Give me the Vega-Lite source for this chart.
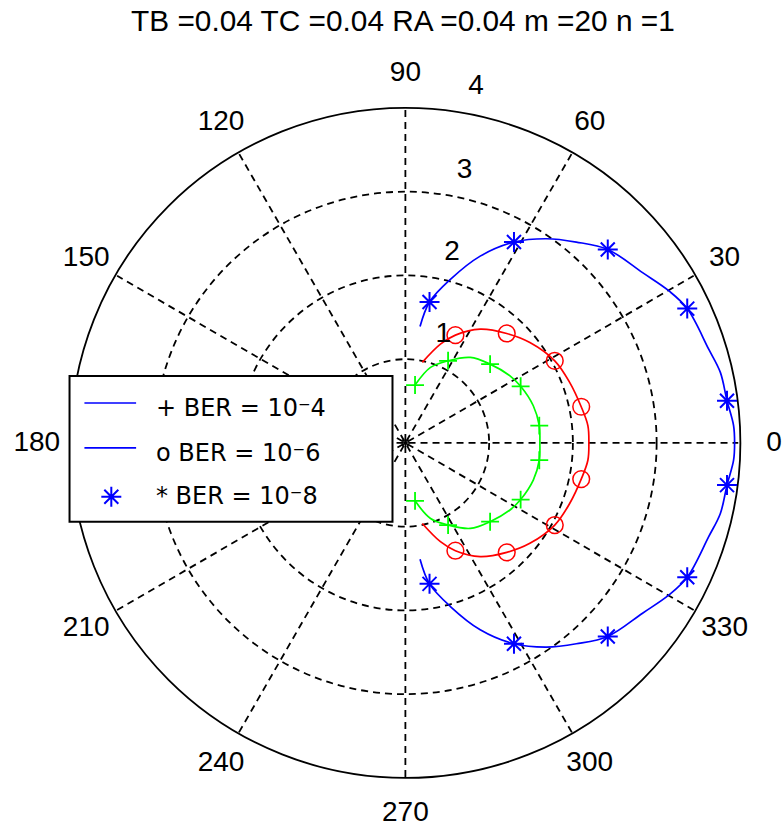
{
  "$schema": "https://vega.github.io/schema/vega-lite/v6.json",
  "autosize": {"type": "fit", "contains": "padding"},
  "width": 782,
  "height": 828,
  "padding": 0,
  "background": "white",
  "config": {"view": {"stroke": null}},
  "datasets": {
    "curves": [
      {"series": "1e-4", "i": 0, "x": 0.116, "y": -0.693, "marker": true},
      {"series": "1e-4", "i": 1, "x": 0.302, "y": -0.904, "marker": false},
      {"series": "1e-4", "i": 2, "x": 0.513, "y": -0.983, "marker": true},
      {"series": "1e-4", "i": 3, "x": 0.780, "y": -1.023, "marker": false},
      {"series": "1e-4", "i": 4, "x": 1.018, "y": -0.943, "marker": true},
      {"series": "1e-4", "i": 5, "x": 1.257, "y": -0.803, "marker": false},
      {"series": "1e-4", "i": 6, "x": 1.385, "y": -0.678, "marker": true},
      {"series": "1e-4", "i": 7, "x": 1.537, "y": -0.445, "marker": false},
      {"series": "1e-4", "i": 8, "x": 1.609, "y": -0.207, "marker": true},
      {"series": "1e-4", "i": 9, "x": 1.616, "y": 0, "marker": false},
      {"series": "1e-4", "i": 10, "x": 1.609, "y": 0.207, "marker": true},
      {"series": "1e-4", "i": 11, "x": 1.537, "y": 0.445, "marker": false},
      {"series": "1e-4", "i": 12, "x": 1.385, "y": 0.678, "marker": true},
      {"series": "1e-4", "i": 13, "x": 1.257, "y": 0.803, "marker": false},
      {"series": "1e-4", "i": 14, "x": 1.018, "y": 0.943, "marker": true},
      {"series": "1e-4", "i": 15, "x": 0.780, "y": 1.023, "marker": false},
      {"series": "1e-4", "i": 16, "x": 0.513, "y": 0.983, "marker": true},
      {"series": "1e-4", "i": 17, "x": 0.302, "y": 0.904, "marker": false},
      {"series": "1e-4", "i": 18, "x": 0.116, "y": 0.693, "marker": true},

      {"series": "1e-6", "i": 0, "x": 0.203, "y": -0.964, "marker": false},
      {"series": "1e-6", "i": 1, "x": 0.421, "y": -1.182, "marker": false},
      {"series": "1e-6", "i": 2, "x": 0.601, "y": -1.290, "marker": true},
      {"series": "1e-6", "i": 3, "x": 0.899, "y": -1.361, "marker": false},
      {"series": "1e-6", "i": 4, "x": 1.218, "y": -1.310, "marker": true},
      {"series": "1e-6", "i": 5, "x": 1.496, "y": -1.202, "marker": false},
      {"series": "1e-6", "i": 6, "x": 1.795, "y": -0.983, "marker": true},
      {"series": "1e-6", "i": 7, "x": 1.974, "y": -0.725, "marker": false},
      {"series": "1e-6", "i": 8, "x": 2.113, "y": -0.433, "marker": true},
      {"series": "1e-6", "i": 9, "x": 2.193, "y": -0.207, "marker": false},
      {"series": "1e-6", "i": 10, "x": 2.205, "y": 0, "marker": false},
      {"series": "1e-6", "i": 11, "x": 2.193, "y": 0.207, "marker": false},
      {"series": "1e-6", "i": 12, "x": 2.113, "y": 0.433, "marker": true},
      {"series": "1e-6", "i": 13, "x": 1.974, "y": 0.725, "marker": false},
      {"series": "1e-6", "i": 14, "x": 1.795, "y": 0.983, "marker": true},
      {"series": "1e-6", "i": 15, "x": 1.496, "y": 1.202, "marker": false},
      {"series": "1e-6", "i": 16, "x": 1.218, "y": 1.310, "marker": true},
      {"series": "1e-6", "i": 17, "x": 0.899, "y": 1.361, "marker": false},
      {"series": "1e-6", "i": 18, "x": 0.601, "y": 1.290, "marker": true},
      {"series": "1e-6", "i": 19, "x": 0.421, "y": 1.182, "marker": false},
      {"series": "1e-6", "i": 20, "x": 0.203, "y": 0.964, "marker": false},

      {"series": "1e-8", "i": 0, "x": 0.176, "y": -1.393, "marker": false},
      {"series": "1e-8", "i": 1, "x": 0.290, "y": -1.687, "marker": true},
      {"series": "1e-8", "i": 2, "x": 0.541, "y": -1.958, "marker": false},
      {"series": "1e-8", "i": 3, "x": 0.899, "y": -2.236, "marker": false},
      {"series": "1e-8", "i": 4, "x": 1.305, "y": -2.404, "marker": true},
      {"series": "1e-8", "i": 5, "x": 1.696, "y": -2.444, "marker": false},
      {"series": "1e-8", "i": 6, "x": 2.054, "y": -2.404, "marker": false},
      {"series": "1e-8", "i": 7, "x": 2.432, "y": -2.316, "marker": true},
      {"series": "1e-8", "i": 8, "x": 2.850, "y": -2.038, "marker": false},
      {"series": "1e-8", "i": 9, "x": 3.168, "y": -1.819, "marker": false},
      {"series": "1e-8", "i": 10, "x": 3.387, "y": -1.608, "marker": true},
      {"series": "1e-8", "i": 11, "x": 3.645, "y": -1.122, "marker": false},
      {"series": "1e-8", "i": 12, "x": 3.785, "y": -0.844, "marker": false},
      {"series": "1e-8", "i": 13, "x": 3.865, "y": -0.505, "marker": true},
      {"series": "1e-8", "i": 14, "x": 3.944, "y": -0.207, "marker": false},
      {"series": "1e-8", "i": 15, "x": 3.956, "y": 0, "marker": false},
      {"series": "1e-8", "i": 16, "x": 3.944, "y": 0.207, "marker": false},
      {"series": "1e-8", "i": 17, "x": 3.865, "y": 0.505, "marker": true},
      {"series": "1e-8", "i": 18, "x": 3.785, "y": 0.844, "marker": false},
      {"series": "1e-8", "i": 19, "x": 3.645, "y": 1.122, "marker": false},
      {"series": "1e-8", "i": 20, "x": 3.387, "y": 1.608, "marker": true},
      {"series": "1e-8", "i": 21, "x": 3.168, "y": 1.819, "marker": false},
      {"series": "1e-8", "i": 22, "x": 2.850, "y": 2.038, "marker": false},
      {"series": "1e-8", "i": 23, "x": 2.432, "y": 2.316, "marker": true},
      {"series": "1e-8", "i": 24, "x": 2.054, "y": 2.404, "marker": false},
      {"series": "1e-8", "i": 25, "x": 1.696, "y": 2.444, "marker": false},
      {"series": "1e-8", "i": 26, "x": 1.305, "y": 2.404, "marker": true},
      {"series": "1e-8", "i": 27, "x": 0.899, "y": 2.236, "marker": false},
      {"series": "1e-8", "i": 28, "x": 0.541, "y": 1.958, "marker": false},
      {"series": "1e-8", "i": 29, "x": 0.290, "y": 1.687, "marker": true},
      {"series": "1e-8", "i": 30, "x": 0.176, "y": 1.393, "marker": false}
    ],
    "spokes": [
      {"x1": -4, "y1": 0, "x2": 4, "y2": 0},
      {"x1": -3.464, "y1": -2, "x2": 3.464, "y2": 2},
      {"x1": -2, "y1": -3.464, "x2": 2, "y2": 3.464},
      {"x1": 0, "y1": -4, "x2": 0, "y2": 4},
      {"x1": 2, "y1": -3.464, "x2": -2, "y2": 3.464},
      {"x1": 3.464, "y1": -2, "x2": -3.464, "y2": 2}
    ],
    "angleLabels": [
      {"label": "0", "x": 4.43, "y": 0},
      {"label": "30", "x": 3.836, "y": 2.215},
      {"label": "60", "x": 2.215, "y": 3.836},
      {"label": "90", "x": 0, "y": 4.43},
      {"label": "120", "x": -2.215, "y": 3.836},
      {"label": "150", "x": -3.836, "y": 2.215},
      {"label": "180", "x": -4.43, "y": 0},
      {"label": "210", "x": -3.836, "y": -2.215},
      {"label": "240", "x": -2.215, "y": -3.836},
      {"label": "270", "x": 0, "y": -4.43},
      {"label": "300", "x": 2.215, "y": -3.836},
      {"label": "330", "x": 3.836, "y": -2.215}
    ],
    "radialLabels": [
      {"label": "1", "x": 0.454, "y": 1.301},
      {"label": "2", "x": 0.561, "y": 2.281},
      {"label": "3", "x": 0.710, "y": 3.272},
      {"label": "4", "x": 0.848, "y": 4.275}
    ]
  },
  "layer": [
    {
      "data": {"values": [{"r": 1}, {"r": 2}, {"r": 3}]},
      "mark": {"type": "point", "shape": "circle", "filled": false, "stroke": "black", "strokeWidth": 1.8, "strokeDash": [7, 5], "opacity": 1},
      "encoding": {
        "x": {"datum": 0, "type": "quantitative", "scale": {"domain": [-4.8716, 4.4657], "nice": false, "zero": false}, "axis": null},
        "y": {"datum": 0, "type": "quantitative", "scale": {"domain": [-4.5851, 5.3015], "nice": false, "zero": false}, "axis": null},
        "size": {"field": "r", "type": "quantitative", "scale": {"type": "pow", "exponent": 2, "domain": [0, 4], "range": [0, 448900]}, "legend": null}
      }
    },
    {
      "data": {"name": "spokes"},
      "mark": {"type": "rule", "stroke": "black", "strokeWidth": 1.8, "strokeDash": [7, 5]},
      "encoding": {
        "x": {"field": "x1", "type": "quantitative", "scale": {"domain": [-4.8716, 4.4657], "nice": false, "zero": false}, "axis": null},
        "y": {"field": "y1", "type": "quantitative", "scale": {"domain": [-4.5851, 5.3015], "nice": false, "zero": false}, "axis": null},
        "x2": {"field": "x2"},
        "y2": {"field": "y2"}
      }
    },
    {
      "data": {"values": [{"r": 4}]},
      "mark": {"type": "point", "shape": "circle", "filled": false, "stroke": "black", "strokeWidth": 1.8, "opacity": 1},
      "encoding": {
        "x": {"datum": 0, "type": "quantitative", "scale": {"domain": [-4.8716, 4.4657], "nice": false, "zero": false}, "axis": null},
        "y": {"datum": 0, "type": "quantitative", "scale": {"domain": [-4.5851, 5.3015], "nice": false, "zero": false}, "axis": null},
        "size": {"field": "r", "type": "quantitative", "scale": {"type": "pow", "exponent": 2, "domain": [0, 4], "range": [0, 448900]}, "legend": null}
      }
    },
    {
      "data": {"values": [{}]},
      "mark": {"type": "point", "shape": "M-1,0L1,0M0,-1L0,1M-0.7,-0.7L0.7,0.7M-0.7,0.7L0.7,-0.7", "filled": false, "stroke": "black", "strokeWidth": 1.2, "size": 90, "opacity": 1},
      "encoding": {
        "x": {"datum": 0, "type": "quantitative", "scale": {"domain": [-4.8716, 4.4657], "nice": false, "zero": false}, "axis": null},
        "y": {"datum": 0, "type": "quantitative", "scale": {"domain": [-4.5851, 5.3015], "nice": false, "zero": false}, "axis": null}
      }
    },
    {
      "data": {"name": "curves"},
      "mark": {"type": "line", "strokeWidth": 1.7, "interpolate": "catmull-rom"},
      "encoding": {
        "x": {"field": "x", "type": "quantitative", "scale": {"domain": [-4.8716, 4.4657], "nice": false, "zero": false}, "axis": null},
        "y": {"field": "y", "type": "quantitative", "scale": {"domain": [-4.5851, 5.3015], "nice": false, "zero": false}, "axis": null},
        "order": {"field": "i", "type": "quantitative"},
        "color": {"field": "series", "type": "nominal", "scale": {"domain": ["1e-4", "1e-6", "1e-8"], "range": ["#00ff00", "#ff0000", "#0000ff"]}, "legend": null}
      }
    },
    {
      "data": {"name": "curves"},
      "transform": [{"filter": "datum.marker && datum.series == '1e-4'"}],
      "mark": {"type": "point", "shape": "M-1,0L1,0M0,-1L0,1", "filled": false, "stroke": "#00ff00", "strokeWidth": 1.8, "size": 320, "opacity": 1},
      "encoding": {
        "x": {"field": "x", "type": "quantitative", "scale": {"domain": [-4.8716, 4.4657], "nice": false, "zero": false}, "axis": null},
        "y": {"field": "y", "type": "quantitative", "scale": {"domain": [-4.5851, 5.3015], "nice": false, "zero": false}, "axis": null}
      }
    },
    {
      "data": {"name": "curves"},
      "transform": [{"filter": "datum.marker && datum.series == '1e-6'"}],
      "mark": {"type": "point", "shape": "circle", "filled": false, "stroke": "#ff0000", "strokeWidth": 1.5, "size": 280, "opacity": 1},
      "encoding": {
        "x": {"field": "x", "type": "quantitative", "scale": {"domain": [-4.8716, 4.4657], "nice": false, "zero": false}, "axis": null},
        "y": {"field": "y", "type": "quantitative", "scale": {"domain": [-4.5851, 5.3015], "nice": false, "zero": false}, "axis": null}
      }
    },
    {
      "data": {"name": "curves"},
      "transform": [{"filter": "datum.marker && datum.series == '1e-8'"}],
      "mark": {"type": "point", "shape": "M-1,0L1,0M0,-1L0,1M-0.7,-0.7L0.7,0.7M-0.7,0.7L0.7,-0.7", "filled": false, "stroke": "#0000ff", "strokeWidth": 2, "size": 400, "opacity": 1},
      "encoding": {
        "x": {"field": "x", "type": "quantitative", "scale": {"domain": [-4.8716, 4.4657], "nice": false, "zero": false}, "axis": null},
        "y": {"field": "y", "type": "quantitative", "scale": {"domain": [-4.5851, 5.3015], "nice": false, "zero": false}, "axis": null}
      }
    },
    {
      "data": {"name": "angleLabels"},
      "mark": {"type": "text", "font": "Liberation Sans", "fontSize": 28, "align": "center", "baseline": "middle", "color": "black"},
      "encoding": {
        "x": {"field": "x", "type": "quantitative", "scale": {"domain": [-4.8716, 4.4657], "nice": false, "zero": false}, "axis": null},
        "y": {"field": "y", "type": "quantitative", "scale": {"domain": [-4.5851, 5.3015], "nice": false, "zero": false}, "axis": null},
        "text": {"field": "label"}
      }
    },
    {
      "data": {"name": "radialLabels"},
      "mark": {"type": "text", "font": "Liberation Sans", "fontSize": 28, "align": "center", "baseline": "middle", "color": "black"},
      "encoding": {
        "x": {"field": "x", "type": "quantitative", "scale": {"domain": [-4.8716, 4.4657], "nice": false, "zero": false}, "axis": null},
        "y": {"field": "y", "type": "quantitative", "scale": {"domain": [-4.5851, 5.3015], "nice": false, "zero": false}, "axis": null},
        "text": {"field": "label"}
      }
    },
    {
      "data": {"values": [{}]},
      "mark": {"type": "text", "font": "Liberation Sans", "fontSize": 29.8, "align": "center", "baseline": "middle", "color": "black", "text": "TB =0.04 TC =0.04 RA =0.04 m =20 n =1"},
      "encoding": {
        "x": {"datum": -0.03, "type": "quantitative", "scale": {"domain": [-4.8716, 4.4657], "nice": false, "zero": false}, "axis": null},
        "y": {"datum": 5.04, "type": "quantitative", "scale": {"domain": [-4.5851, 5.3015], "nice": false, "zero": false}, "axis": null}
      }
    },
    {
      "data": {"values": [{}]},
      "mark": {"type": "rect", "fill": "white", "stroke": "black", "strokeWidth": 2},
      "encoding": {
        "x": {"datum": -4.036, "type": "quantitative", "scale": {"domain": [-4.8716, 4.4657], "nice": false, "zero": false}, "axis": null},
        "x2": {"datum": -0.155},
        "y": {"datum": 0.800, "type": "quantitative", "scale": {"domain": [-4.5851, 5.3015], "nice": false, "zero": false}, "axis": null},
        "y2": {"datum": -0.943}
      }
    },
    {
      "data": {"values": [{}]},
      "mark": {"type": "rule", "stroke": "#0000ff", "strokeWidth": 1.7},
      "encoding": {
        "x": {"datum": -3.857, "type": "quantitative", "scale": {"domain": [-4.8716, 4.4657], "nice": false, "zero": false}, "axis": null},
        "x2": {"datum": -3.236},
        "y": {"datum": 0.478, "type": "quantitative", "scale": {"domain": [-4.5851, 5.3015], "nice": false, "zero": false}, "axis": null}
      }
    },
    {
      "data": {"values": [{}]},
      "mark": {"type": "rule", "stroke": "#0000ff", "strokeWidth": 1.7},
      "encoding": {
        "x": {"datum": -3.857, "type": "quantitative", "scale": {"domain": [-4.8716, 4.4657], "nice": false, "zero": false}, "axis": null},
        "x2": {"datum": -3.236},
        "y": {"datum": -0.060, "type": "quantitative", "scale": {"domain": [-4.5851, 5.3015], "nice": false, "zero": false}, "axis": null}
      }
    },
    {
      "data": {"values": [{}]},
      "mark": {"type": "point", "shape": "M-1,0L1,0M0,-1L0,1M-0.7,-0.7L0.7,0.7M-0.7,0.7L0.7,-0.7", "filled": false, "stroke": "#0000ff", "strokeWidth": 2, "size": 400, "opacity": 1},
      "encoding": {
        "x": {"datum": -3.534, "type": "quantitative", "scale": {"domain": [-4.8716, 4.4657], "nice": false, "zero": false}, "axis": null},
        "y": {"datum": -0.645, "type": "quantitative", "scale": {"domain": [-4.5851, 5.3015], "nice": false, "zero": false}, "axis": null}
      }
    },
    {
      "data": {"values": [{}]},
      "mark": {"type": "text", "font": "DejaVu Sans", "fontSize": 24, "align": "left", "baseline": "middle", "color": "black", "text": "+ BER = 10⁻4"},
      "encoding": {
        "x": {"datum": -2.997, "type": "quantitative", "scale": {"domain": [-4.8716, 4.4657], "nice": false, "zero": false}, "axis": null},
        "y": {"datum": 0.406, "type": "quantitative", "scale": {"domain": [-4.5851, 5.3015], "nice": false, "zero": false}, "axis": null}
      }
    },
    {
      "data": {"values": [{}]},
      "mark": {"type": "text", "font": "DejaVu Sans", "fontSize": 24, "align": "left", "baseline": "middle", "color": "black", "text": "o BER = 10⁻6"},
      "encoding": {
        "x": {"datum": -2.997, "type": "quantitative", "scale": {"domain": [-4.8716, 4.4657], "nice": false, "zero": false}, "axis": null},
        "y": {"datum": -0.131, "type": "quantitative", "scale": {"domain": [-4.5851, 5.3015], "nice": false, "zero": false}, "axis": null}
      }
    },
    {
      "data": {"values": [{}]},
      "mark": {"type": "text", "font": "DejaVu Sans", "fontSize": 24, "align": "left", "baseline": "middle", "color": "black", "text": "* BER = 10⁻8"},
      "encoding": {
        "x": {"datum": -2.997, "type": "quantitative", "scale": {"domain": [-4.8716, 4.4657], "nice": false, "zero": false}, "axis": null},
        "y": {"datum": -0.645, "type": "quantitative", "scale": {"domain": [-4.5851, 5.3015], "nice": false, "zero": false}, "axis": null}
      }
    }
  ]
}
